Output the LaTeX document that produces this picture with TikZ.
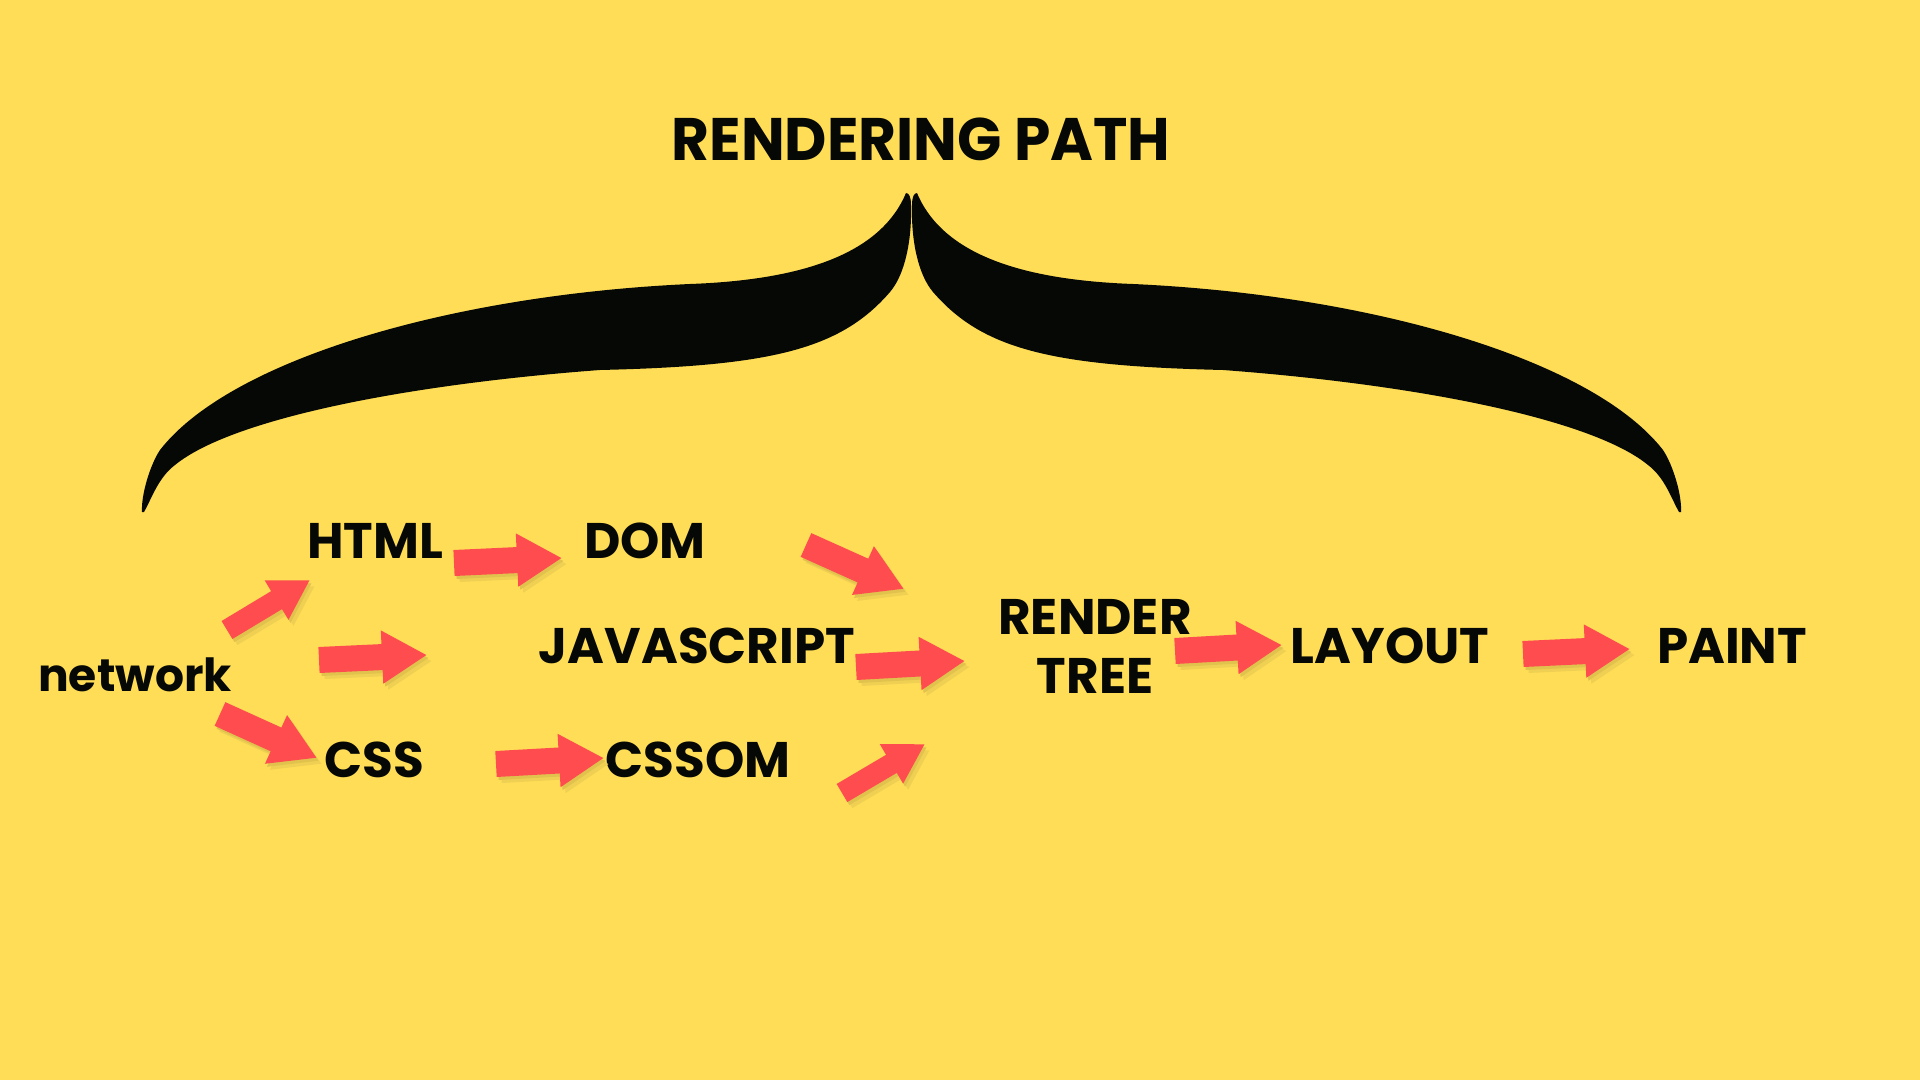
\documentclass[tikz,border=0pt]{standalone}
\usepackage{fontspec}
\setmainfont{Poppins}
\usetikzlibrary{arrows.meta}
\definecolor{bg}{RGB}{255,221,87}
\definecolor{arrowred}{RGB}{255,76,78}
\definecolor{ink}{RGB}{6,8,6}
\colorlet{shadowc}{bg!88!black}
\colorlet{shadowd}{bg!94!black}
\tikzset{
  lbl/.style={inner sep=0pt, text=ink, font=\bfseries\fontsize{25}{30}\selectfont},
  titlelbl/.style={inner sep=0pt, text=ink, font=\bfseries\fontsize{30}{36}\selectfont},
  netlbl/.style={inner sep=0pt, text=ink, font=\bfseries\fontsize{22.8}{28}\selectfont},
  bigarr/.style={line width=13pt, -{Triangle[width=25pt,length=22.5pt]}},
  smallarr/.style={line width=10.5pt, -{Triangle[width=21.5pt,length=19.5pt]}},
  arrowbody/.style={draw=arrowred},
  arrowshadow/.style={draw=shadowc},
  arrowshadowsoft/.style={draw=shadowd},
  bracehalf/.pic={
    \fill[ink] (906,193) .. controls (880,255) and (800,280) .. (690,284)
      .. controls (450,295) and (230,360) .. (160,450)
      .. controls (150,465) and (141,495) .. (142,512)
      -- (144,512) .. controls (152,498) and (158,478) .. (175,465)
      .. controls (230,420) and (400,385) .. (600,370)
      .. controls (770,366) and (840,350) .. (890,292)
      .. controls (905,274.5) and (912,240) .. (911,205)
      .. controls (911,197) and (909,193) .. (906,193) -- cycle;
  }
}
\newcommand\flowarrow[3][bigarr]{%
  \draw[#1, arrowshadowsoft] ([shift={(5,6)}]#2) -- ([shift={(5,6)}]#3);
  \draw[#1, arrowshadow] ([shift={(2,3)}]#2) -- ([shift={(2,3)}]#3);
  \draw[#1, arrowbody] (#2) -- (#3);}
\begin{document}
\begin{tikzpicture}[x=0.5pt, y=-0.5pt]
  \fill[bg] (0,0) rectangle (1920,1080);
  \useasboundingbox (0,0) rectangle (1920,1080);

  % brace
  \pic (braceL) {bracehalf};
  \pic (braceR) [xscale=-1] at (1823,0) {bracehalf};

  % labels
  \node[titlelbl] (title) at (921,139) {\scalebox{0.97}[1]{RENDERING PATH}};
  \node[netlbl] (network) at (135,675) {network};
  \node[lbl] (html) at (375,541) {HTML};
  \node[lbl] (dom) at (645,541) {DOM};
  \node[lbl] (js) at (697,646) {JAVASCRIPT};
  \node[lbl] (css) at (374,760) {CSS};
  \node[lbl] (cssom) at (698,760) {CSSOM};
  \node[lbl, align=center, font=\bfseries\fontsize{25}{29.5}\selectfont] (rtree) at (1095,646) {RENDER\\TREE};
  \node[lbl] (layout) at (1390,646) {LAYOUT};
  \node[lbl] (paint) at (1732,646) {PAINT};

  % arrow end points
  \coordinate (a1s) at (227,630); \coordinate (a1e) at (310,580);
  \coordinate (a2s) at (319,660); \coordinate (a2e) at (427,655);
  \coordinate (a3s) at (220,714); \coordinate (a3e) at (317,758);
  \coordinate (a4s) at (454,563); \coordinate (a4e) at (562,558);
  \coordinate (a5s) at (496,764); \coordinate (a5e) at (604,758);
  \coordinate (a6s) at (806,545); \coordinate (a6e) at (904,589);
  \coordinate (a7s) at (856,667); \coordinate (a7e) at (965,661);
  \coordinate (a8s) at (842,793); \coordinate (a8e) at (925,744);
  \coordinate (a9s) at (1175,651); \coordinate (a9e) at (1282,645);
  \coordinate (a10s) at (1523,654); \coordinate (a10e) at (1630,649);

  \flowarrow[smallarr]{a1s}{a1e}
  \flowarrow{a2s}{a2e}
  \flowarrow{a3s}{a3e}
  \flowarrow{a4s}{a4e}
  \flowarrow{a5s}{a5e}
  \flowarrow{a6s}{a6e}
  \flowarrow{a7s}{a7e}
  \flowarrow[smallarr]{a8s}{a8e}
  \flowarrow{a9s}{a9e}
  \flowarrow{a10s}{a10e}
\end{tikzpicture}
\end{document}
